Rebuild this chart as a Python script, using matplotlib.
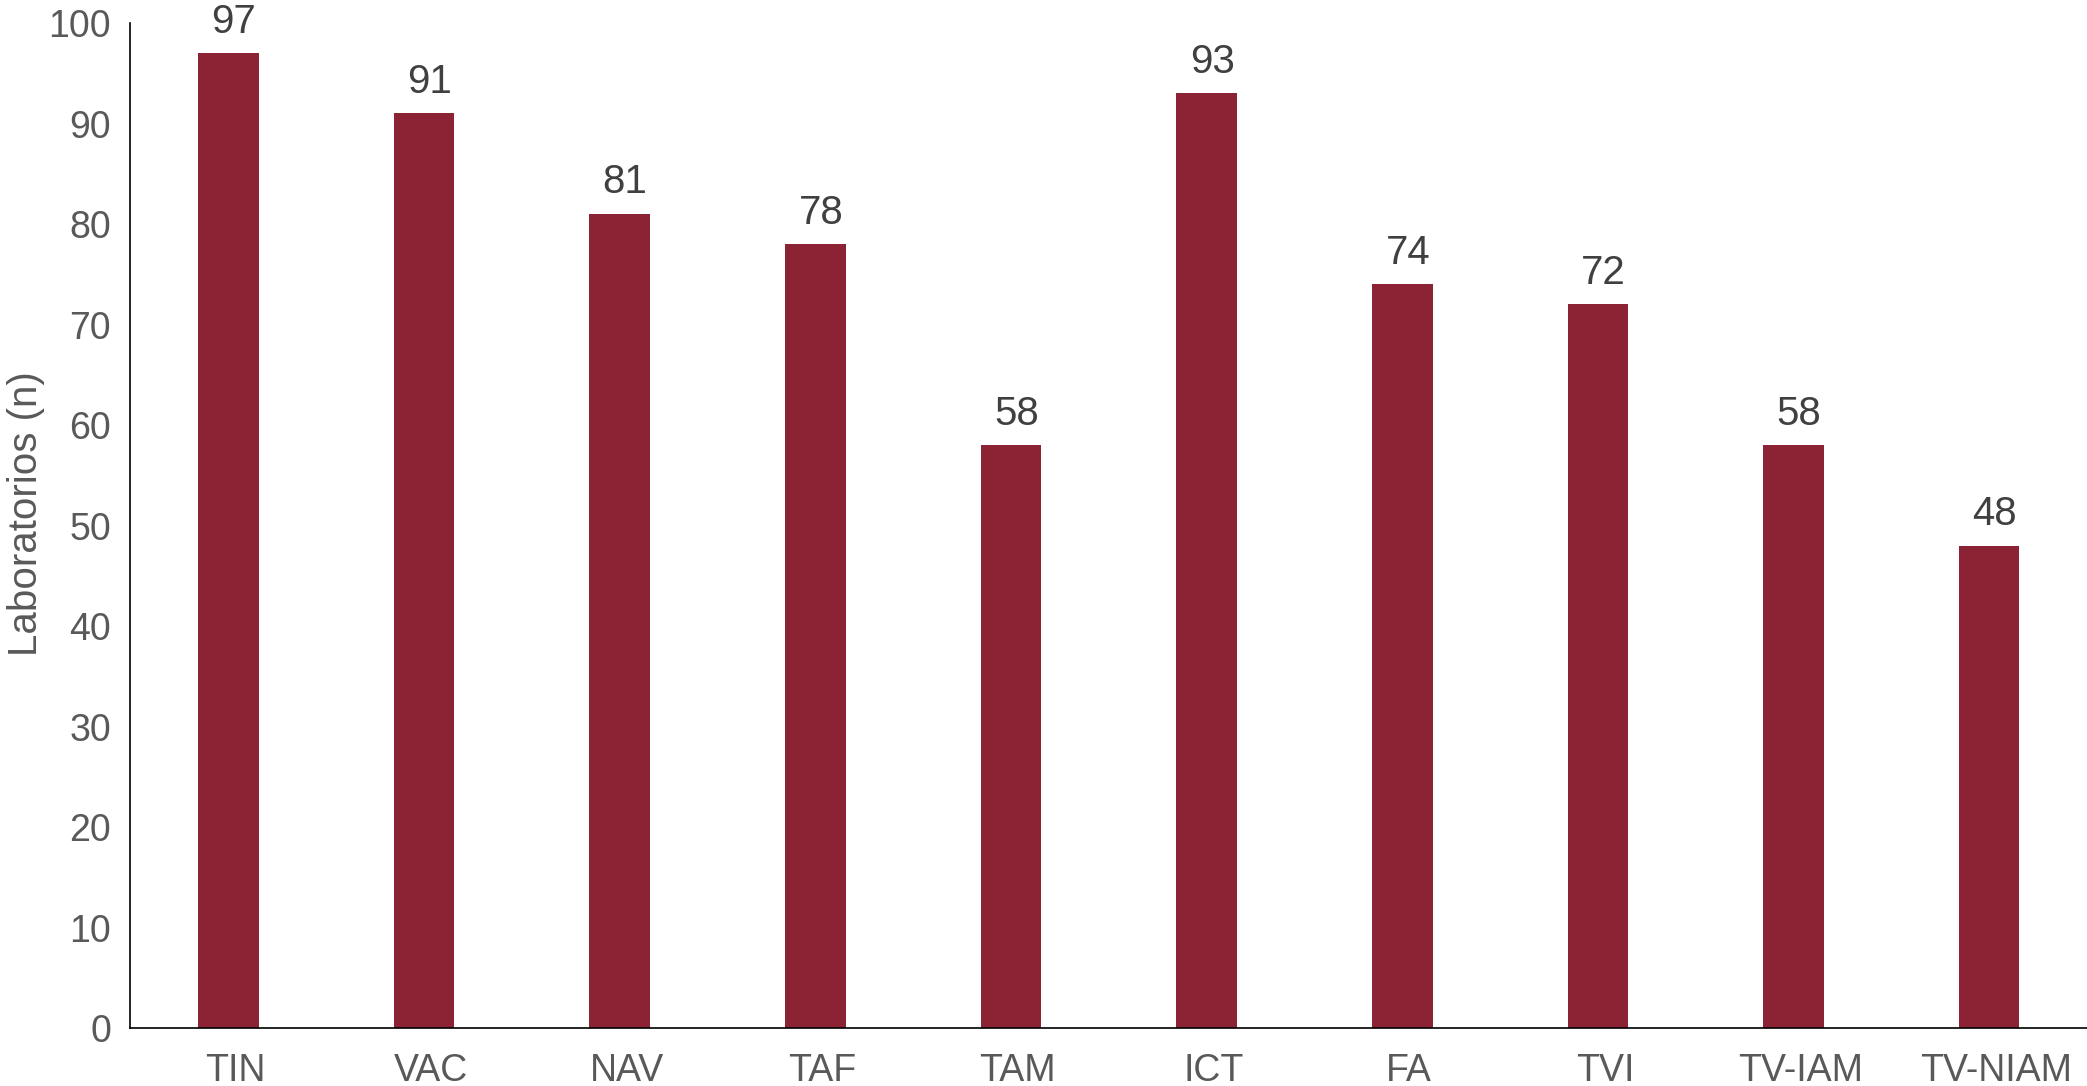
import matplotlib
matplotlib.use("Agg")
import matplotlib.pyplot as plt
from matplotlib.transforms import ScaledTranslation

categories = ["TIN", "VAC", "NAV", "TAF", "TAM", "ICT", "FA", "TVI", "TV-IAM", "TV-NIAM"]
values = [97, 91, 81, 78, 58, 93, 74, 72, 58, 48]
yticks = [0, 10, 20, 30, 40, 50, 60, 70, 80, 90, 100]

plt.rcParams['font.family'] = ['Liberation Sans', 'DejaVu Sans']

fig = plt.figure(figsize=(20.87, 10.86), dpi=100)
ax = fig.add_axes([0.0625, 0.0534, 0.9375, 0.9254])

x = list(range(len(categories)))
bars = ax.bar(x, values, width=0.31, color="#8B2334")
ax.set_xlim(-0.5, len(categories) - 0.5)
ax.set_ylim(0, 100)
ax.set_yticks(yticks)
ax.set_xticks(x)
ax.set_xticklabels(categories)

for s in ["top", "right"]:
    ax.spines[s].set_visible(False)
for s in ["left", "bottom"]:
    ax.spines[s].set_linewidth(1.2)
    ax.spines[s].set_color("black")

ax.tick_params(axis="both", length=0, labelsize=27, labelcolor="#595959")
ax.tick_params(axis="x", pad=18)
ax.tick_params(axis="y", pad=14)

# slight rightward shift of category labels as in the reference
shift = ScaledTranslation(7 / 100, 0, fig.dpi_scale_trans)
for lab in ax.get_xticklabels():
    lab.set_transform(lab.get_transform() + shift)

ax.set_ylabel("Laboratorios (n)", fontsize=29, color="#595959")
ax.yaxis.set_label_coords(-0.0437, 0.512)

for xi, v in zip(x, values):
    ax.annotate(str(v), (xi, v), xytext=(4, 9), textcoords="offset points",
                ha="center", va="bottom", fontsize=29, color="#404040",
                annotation_clip=False)

fig.savefig("out.png", dpi=100)
